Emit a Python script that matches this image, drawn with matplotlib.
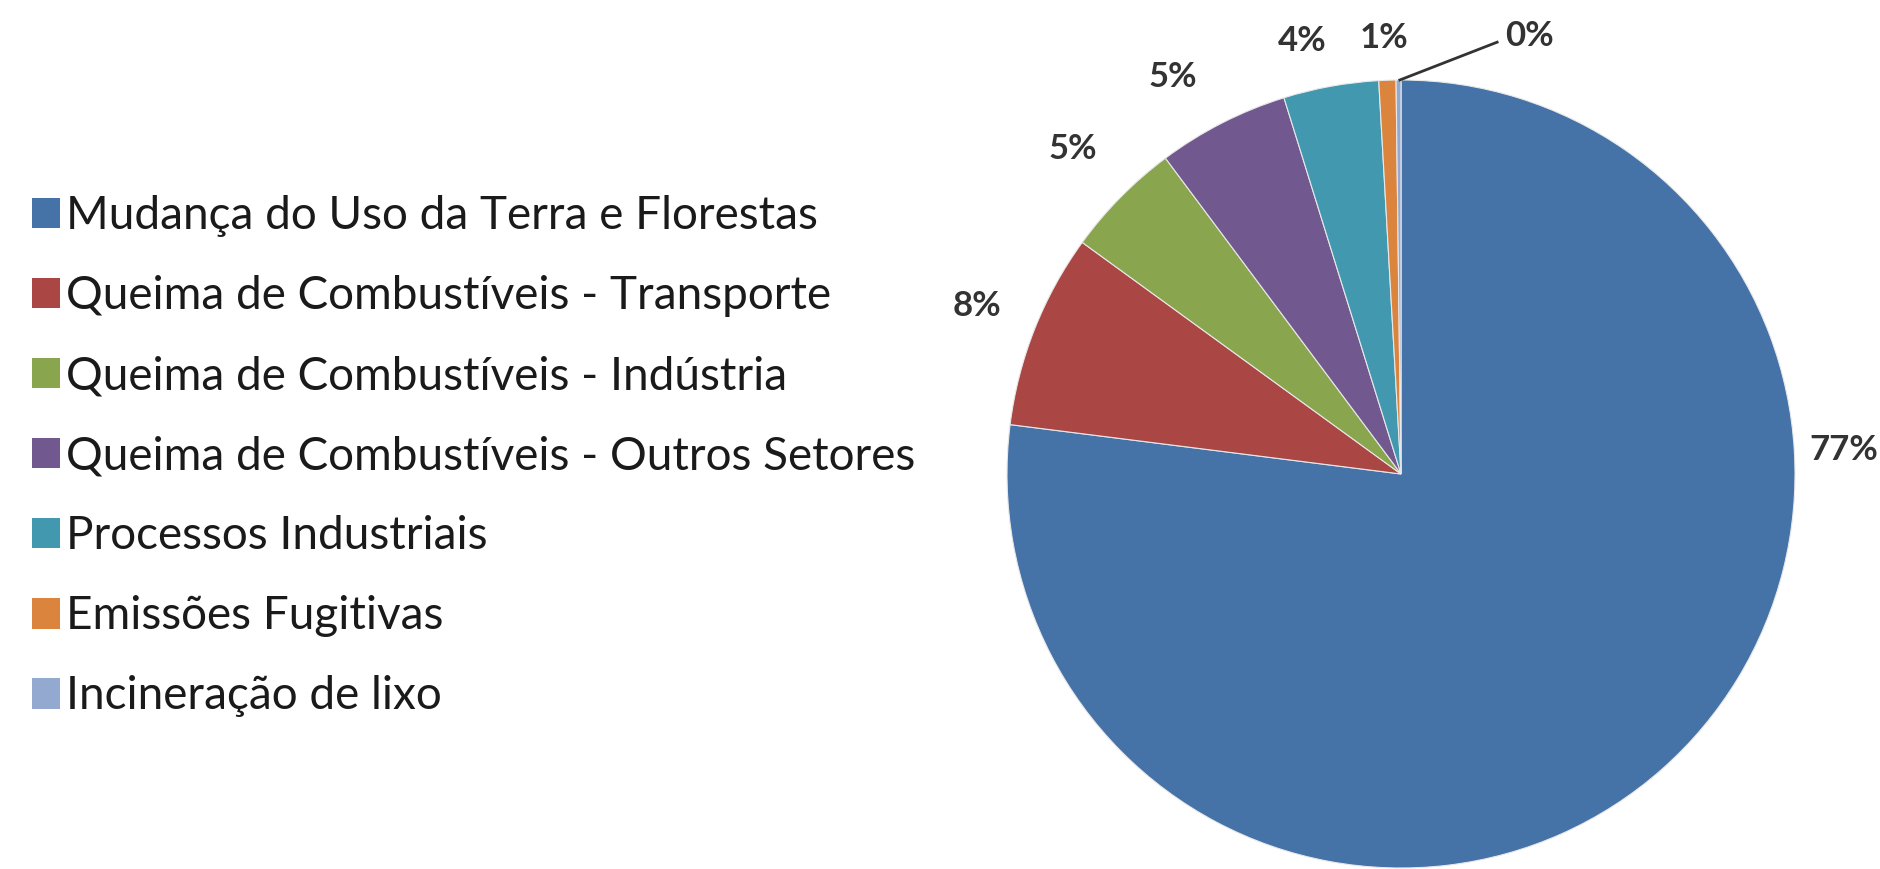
import matplotlib
matplotlib.use("Agg")
import matplotlib.pyplot as plt
from matplotlib.patches import Patch

# dados (percentual das emissões)
categorias = [
    "Mudança do Uso da Terra e Florestas",
    "Queima de Combustíveis - Transporte",
    "Queima de Combustíveis - Indústria",
    "Queima de Combustíveis - Outros Setores",
    "Processos Industriais",
    "Emissões Fugitivas",
    "Incineração de lixo",
]
valores = [77.0, 8.0, 4.8, 5.4, 3.9, 0.7, 0.2]
rotulos = ["77%", "8%", "5%", "5%", "4%", "1%", "0%"]
cores = ["#4572A7", "#AA4643", "#89A54E", "#71588F", "#4198AF", "#DB843D", "#93A9CF"]

# posição dos rótulos relativa ao centro, em raios
pos_rotulos = [(1.125, 0.06), (-1.076, 0.426), (-0.832, 0.825), (-0.579, 1.008),
               (-0.251, 1.099), (-0.043, 1.107), (0.327, 1.112)]

W, H = 1881, 869
fig = plt.figure(figsize=(W / 100, H / 100), dpi=100)
ax = fig.add_axes([0, 0, 1, 1])

cx, cy, r = 1401, H - 474, 394
wedges, _ = ax.pie(valores, colors=cores, startangle=90, counterclock=False,
                   center=(cx, cy), radius=r, frame=True,
                   wedgeprops=dict(edgecolor="#e8e8e8", linewidth=0.8))
ax.set_xlim(0, W)
ax.set_ylim(0, H)
ax.set_aspect("equal")
ax.axis("off")

for txt, (dx, dy) in zip(rotulos, pos_rotulos):
    ax.text(cx + dx * r, cy + dy * r, txt, ha="center", va="center",
            fontsize=25, fontweight="bold", color="#333333", family="Lato")

# linha guia do rótulo 0%
ax.plot([cx - 0.003 * r, cx + 0.244 * r], [cy + 1.0 * r, cy + 1.096 * r],
        color="#333333", lw=2)

handles = [Patch(facecolor=c, edgecolor="none") for c in cores]
leg = fig.legend(handles, categorias, loc="center left", bbox_to_anchor=(0.0, 0.475),
                 frameon=False, handlelength=0.6, handleheight=0.65,
                 handletextpad=0.15, labelspacing=0.83, borderaxespad=0.3,
                 prop=dict(family="Lato", size=33))
for t in leg.get_texts():
    t.set_color("#1a1a1a")

fig.savefig("out.png", dpi=100)
